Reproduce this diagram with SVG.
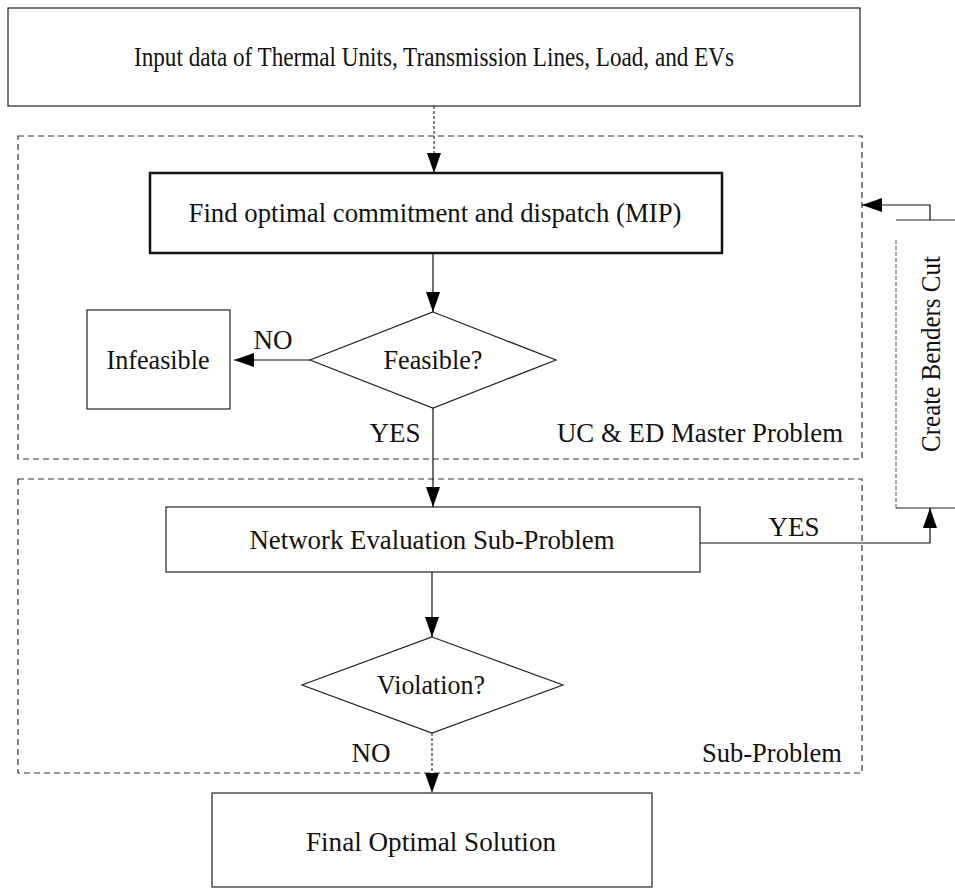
<svg xmlns="http://www.w3.org/2000/svg" width="955" height="888" viewBox="0 0 955 888">
<style>
  .box { fill: #fff; stroke: #222; stroke-width: 1.2; }
  .thick { fill: #fff; stroke: #111; stroke-width: 2.5; }
  .grp { fill: none; stroke: #333; stroke-width: 1.2; stroke-dasharray: 6 4; }
  .line { fill: none; stroke: #111; stroke-width: 1.2; }
  .dot { fill: none; stroke: #333; stroke-width: 1.2; stroke-dasharray: 3 2; }
  .light { fill: none; stroke: #555; stroke-width: 1; stroke-dasharray: 4 2; }
  text { font-family: "Liberation Serif", "Times New Roman", serif; font-size: 27px; fill: #111; }
  .c { text-anchor: middle; dominant-baseline: central; }
</style>
<defs>
  <marker id="ah" viewBox="0 0 20 14" refX="20" refY="7" markerWidth="20" markerHeight="14" markerUnits="userSpaceOnUse" orient="auto">
    <path d="M0,0 L20,7 L0,14 z" fill="#000"/>
  </marker>
</defs>

<g id="master-group">
  <rect class="grp" x="18" y="136" width="844" height="323"/>
  <text x="843" y="442" text-anchor="end" textLength="286" lengthAdjust="spacingAndGlyphs">UC &amp; ED Master Problem</text>
</g>
<g id="sub-group">
  <rect class="grp" x="18" y="479" width="844" height="294"/>
  <text x="842" y="762" text-anchor="end" textLength="140" lengthAdjust="spacingAndGlyphs">Sub-Problem</text>
</g>

<g id="input">
  <rect class="box" x="8" y="8" width="852" height="98"/>
  <text class="c" x="434" y="57" textLength="600" lengthAdjust="spacingAndGlyphs">Input data of Thermal Units, Transmission Lines, Load, and EVs</text>
</g>
<g id="mip">
  <rect class="thick" x="150" y="173" width="572" height="80"/>
  <text class="c" x="435" y="213" textLength="493" lengthAdjust="spacingAndGlyphs">Find optimal commitment and dispatch (MIP)</text>
</g>
<g id="feasible">
  <polygon class="box" points="433,312 556,360 433,408 310,360"/>
  <text class="c" x="433" y="360" textLength="99" lengthAdjust="spacingAndGlyphs">Feasible?</text>
</g>
<g id="infeasible">
  <rect class="box" x="87" y="310" width="143" height="99"/>
  <text class="c" x="158" y="360" textLength="103" lengthAdjust="spacingAndGlyphs">Infeasible</text>
</g>
<g id="network">
  <rect class="box" x="166" y="507" width="534" height="65"/>
  <text class="c" x="432" y="540" textLength="365" lengthAdjust="spacingAndGlyphs">Network Evaluation Sub-Problem</text>
</g>
<g id="violation">
  <polygon class="box" points="432,637 563,685 432,733 302,685"/>
  <text class="c" x="431" y="685" textLength="108" lengthAdjust="spacingAndGlyphs">Violation?</text>
</g>
<g id="final">
  <rect class="box" x="212" y="793" width="440" height="94"/>
  <text class="c" x="431" y="842" textLength="250" lengthAdjust="spacingAndGlyphs">Final Optimal Solution</text>
</g>
<g id="benders">
  <path class="box" d="M975,220 L896,220 M975,508 L896,508"/>
  <line class="light" x1="896" y1="240" x2="896" y2="508"/>
  <text class="c" transform="translate(931,354) rotate(-90)" x="0" y="0" textLength="196" lengthAdjust="spacingAndGlyphs">Create Benders Cut</text>
</g>

<g id="connectors">
  <line class="dot" x1="434" y1="106" x2="434" y2="173" marker-end="url(#ah)"/>
  <line class="line" x1="433" y1="253" x2="433" y2="312" marker-end="url(#ah)"/>
  <line class="line" x1="310" y1="360" x2="234" y2="360" marker-end="url(#ah)"/>
  <line class="line" x1="433" y1="408" x2="433" y2="507" marker-end="url(#ah)"/>
  <line class="line" x1="432" y1="572" x2="432" y2="637" marker-end="url(#ah)"/>
  <line class="dot" x1="432" y1="733" x2="432" y2="793" marker-end="url(#ah)"/>
  <polyline class="line" points="700,543 930,543 930,508" marker-end="url(#ah)"/>
  <polyline class="line" points="930,220 930,205 862,205" marker-end="url(#ah)"/>
  <text x="273" y="349" text-anchor="middle">NO</text>
  <text x="395" y="442" text-anchor="middle">YES</text>
  <text x="794" y="536" text-anchor="middle">YES</text>
  <text x="371" y="762" text-anchor="middle">NO</text>
</g>
</svg>
